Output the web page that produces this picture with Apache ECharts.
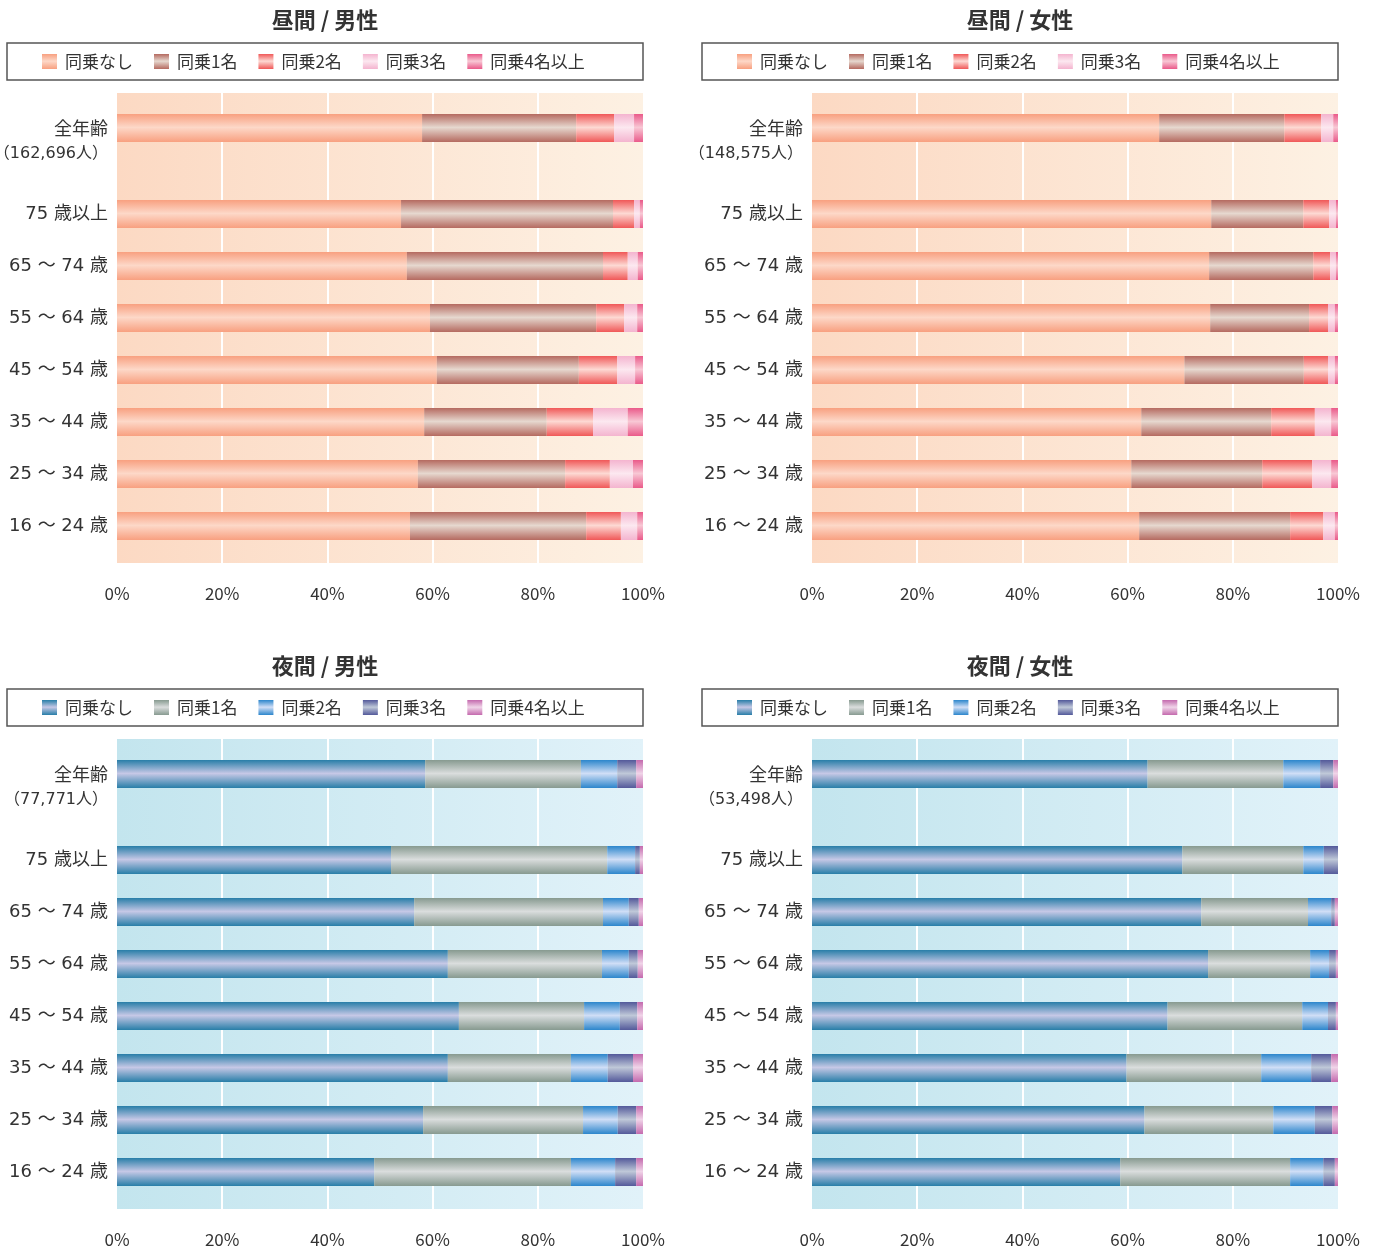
<!DOCTYPE html>
<meta charset="utf-8">
<html>

<head>
  <title>同乗者数</title>
  <script src="https://cdn.jsdelivr.net/npm/echarts@6/dist/echarts.min.js"></script>
</head>

<body style="margin: 0">
  <div id="container" style="height: 1253px; width: 1383px"></div>
  <script>
    // categories
    var seriesNames = ['同乗なし', '同乗1名', '同乗2名', '同乗3名', '同乗4名以上'];
    var ageLabels = ['75 歳以上', '65 ～ 74 歳', '55 ～ 64 歳', '45 ～ 54 歳', '35 ～ 44 歳', '25 ～ 34 歳', '16 ～ 24 歳'];
    var panelTitles = ['昼間 / 男性', '昼間 / 女性', '夜間 / 男性', '夜間 / 女性'];
    var totalCounts = ['162,696', '148,575', '77,771', '53,498'];
    var tickValues = [0, 20, 40, 60, 80, 100];

    // % values: first = 全年齢, then 75歳以上 ... 16～24歳
    var dayMaleNone = [58.0, 54.0, 55.1, 59.5, 60.8, 58.4, 57.2, 55.7];
    var dayMale1 = [29.3, 40.3, 37.3, 31.6, 27.0, 23.3, 28.0, 33.5];
    var dayMale2 = [7.2, 4.0, 4.7, 5.3, 7.3, 8.8, 8.5, 6.6];
    var dayMale3 = [3.8, 1.1, 1.9, 2.5, 3.4, 6.6, 4.4, 3.1];
    var dayMale4 = [1.7, 0.6, 1.0, 1.1, 1.5, 2.9, 1.9, 1.1];

    var dayFemaleNone = [66.0, 75.9, 75.5, 75.7, 70.8, 62.6, 60.7, 62.2];
    var dayFemale1 = [23.8, 17.5, 19.8, 18.8, 22.7, 24.7, 24.9, 28.7];
    var dayFemale2 = [7.0, 4.9, 3.2, 3.6, 4.6, 8.3, 9.5, 6.3];
    var dayFemale3 = [2.3, 1.3, 1.1, 1.3, 1.3, 3.1, 3.6, 2.2];
    var dayFemale4 = [0.9, 0.4, 0.4, 0.6, 0.6, 1.3, 1.3, 0.6];

    var nightMaleNone = [58.6, 52.1, 56.5, 62.9, 65.0, 62.9, 58.2, 48.9];
    var nightMale1 = [29.6, 41.1, 35.9, 29.3, 23.8, 23.4, 30.4, 37.4];
    var nightMale2 = [6.9, 5.3, 4.9, 5.1, 6.8, 7.0, 6.6, 8.4];
    var nightMale3 = [3.6, 0.9, 1.9, 1.7, 3.3, 4.8, 3.5, 4.0];
    var nightMale4 = [1.3, 0.6, 0.8, 1.0, 1.1, 1.9, 1.3, 1.3];

    var nightFemaleNone = [63.8, 70.4, 74.0, 75.3, 67.6, 59.8, 63.2, 58.6];
    var nightFemale1 = [25.8, 23.0, 20.3, 19.4, 25.6, 25.6, 24.5, 32.3];
    var nightFemale2 = [7.0, 3.9, 4.4, 3.6, 4.9, 9.5, 7.9, 6.3];
    var nightFemale3 = [2.5, 2.7, 0.7, 1.3, 1.5, 3.8, 3.3, 2.2];
    var nightFemale4 = [0.9, 0.0, 0.6, 0.4, 0.4, 1.3, 1.1, 0.6];

    var panelData = [
      [dayMaleNone, dayMale1, dayMale2, dayMale3, dayMale4],
      [dayFemaleNone, dayFemale1, dayFemale2, dayFemale3, dayFemale4],
      [nightMaleNone, nightMale1, nightMale2, nightMale3, nightMale4],
      [nightFemaleNone, nightFemale1, nightFemale2, nightFemale3, nightFemale4]
    ];

    // [edge, middle] of each bar's shading
    var dayColors = [['#f8a080', '#fdd8c8'], ['#b56a60', '#e6d8cf'], ['#f05858', '#fdd9d3'], ['#f4b4cf', '#fce8f0'], ['#ea5a8a', '#f8c8d5']];
    var nightColors = [['#287ea8', '#c6c8e6'], ['#879a90', '#dadddd'], ['#2c86cc', '#d0def6'], ['#53599a', '#bfc8d8'], ['#c46aae', '#f0d4e8']];
    var dayBg = ['#fcd9c3', '#fdf1e3'];
    var nightBg = ['#c3e5ee', '#e1f2f9'];

    var font = '"Noto Sans CJK JP", "Noto Sans", sans-serif';
    var labelFont = '"DejaVu Sans", "Noto Sans CJK JP", sans-serif';
    var textColor = '#333';

    function shade(c) {
      return new echarts.graphic.LinearGradient(0, 0, 0, 1, [
        { offset: 0, color: c[0] },
        { offset: 0.48, color: c[1] },
        { offset: 1, color: c[0] }
      ]);
    }

    // plot origin of each panel
    var panels = [{ x: 117, y: 93 }, { x: 812, y: 93 }, { x: 117, y: 739 }, { x: 812, y: 739 }];
    var plotW = 526;

    var option = {
      animation: false,
      backgroundColor: '#fff',
      textStyle: { fontFamily: font },
      title: [], legend: [], grid: [], xAxis: [], yAxis: [], series: [], graphic: []
    };

    panels.forEach(function (p, i) {
      var night = i >= 2;
      var colors = night ? nightColors : dayColors;
      var bg = night ? nightBg : dayBg;
      var boxLeft = p.x - 110;
      var boxW = plotW + 110;
      var g = i * 3;

      option.title.push({
        text: panelTitles[i],
        left: boxLeft + boxW / 2,
        top: p.y - 84,
        textAlign: 'center',
        padding: 0,
        textStyle: { fontSize: 22, fontWeight: 'bold', color: textColor, fontFamily: font }
      });
      option.graphic.push({
        type: 'rect',
        shape: { x: boxLeft, y: p.y - 50, width: boxW, height: 37 },
        style: { fill: 'none', stroke: '#555', lineWidth: 1.5 }
      });
      option.legend.push({
        left: boxLeft + 35,
        top: p.y - 40,
        padding: 0,
        icon: 'rect',
        itemWidth: 15,
        itemHeight: 15,
        itemGap: 21,
        selectedMode: false,
        textStyle: { fontSize: 17, color: textColor, fontFamily: font, padding: [0, 0, 0, 3] },
        data: seriesNames.map(function (n, k) {
          return { name: n, itemStyle: { color: shade(colors[k]) } };
        })
      });

      // background grid with split lines and percent labels
      option.grid.push({
        left: p.x, top: p.y, width: plotW, height: 470, outerBoundsMode: 'none',
        show: true, borderWidth: 0,
        backgroundColor: new echarts.graphic.LinearGradient(0, 0, 1, 0, [
          { offset: 0, color: bg[0] }, { offset: 1, color: bg[1] }
        ])
      });
      // 全年齢 row
      option.grid.push({ left: p.x, top: p.y, width: plotW, height: 70, outerBoundsMode: 'none' });
      // age rows
      option.grid.push({ left: p.x, top: p.y + 95, width: plotW, height: 364, outerBoundsMode: 'none' });

      option.xAxis.push({
        gridIndex: g, type: 'value', min: tickValues[0], max: tickValues[tickValues.length - 1], interval: 20,
        axisLine: { show: false }, axisTick: { show: false },
        axisLabel: { formatter: '{value}%', fontSize: 17, color: textColor, margin: 22 },
        splitLine: { show: true, showMinLine: false, showMaxLine: false, lineStyle: { color: '#fff', width: 2 } }
      });
      option.yAxis.push({ gridIndex: g, type: 'value', min: 0, max: 1, show: false });

      option.xAxis.push({ gridIndex: g + 1, type: 'value', min: 0, max: 100, show: false });
      option.yAxis.push({
        gridIndex: g + 1, type: 'category',
        data: ['{a|全年齢}\n{b|（' + totalCounts[i] + '人）}'],
        axisLine: { show: false }, axisTick: { show: false },
        axisLabel: {
          margin: 9, padding: [28, 0, 0, 0], align: 'right',
          rich: {
            a: { fontSize: 18, lineHeight: 24, color: textColor, align: 'right', fontFamily: labelFont },
            b: { fontSize: 16, lineHeight: 24, color: textColor, align: 'right', fontFamily: labelFont }
          }
        }
      });

      option.xAxis.push({ gridIndex: g + 2, type: 'value', min: 0, max: 100, show: false });
      option.yAxis.push({
        gridIndex: g + 2, type: 'category', inverse: true, data: ageLabels,
        axisLine: { show: false }, axisTick: { show: false },
        axisLabel: { margin: 9, fontSize: 18, color: textColor, fontFamily: labelFont, padding: [8, 0, 0, 0] }
      });

      seriesNames.forEach(function (name, k) {
        var vals = panelData[i][k];
        option.series.push({
          name: name, type: 'bar', stack: 'all' + i,
          xAxisIndex: g + 1, yAxisIndex: g + 1, barWidth: 28,
          itemStyle: { color: shade(colors[k]) },
          data: vals.slice(0, 1)
        });
        option.series.push({
          name: name, type: 'bar', stack: 'age' + i,
          xAxisIndex: g + 2, yAxisIndex: g + 2, barWidth: 28,
          itemStyle: { color: shade(colors[k]) },
          data: vals.slice(1)
        });
      });
    });

    var myChart = echarts.init(document.getElementById('container'));
    myChart.setOption(option);
  </script>
</body>

</html>
